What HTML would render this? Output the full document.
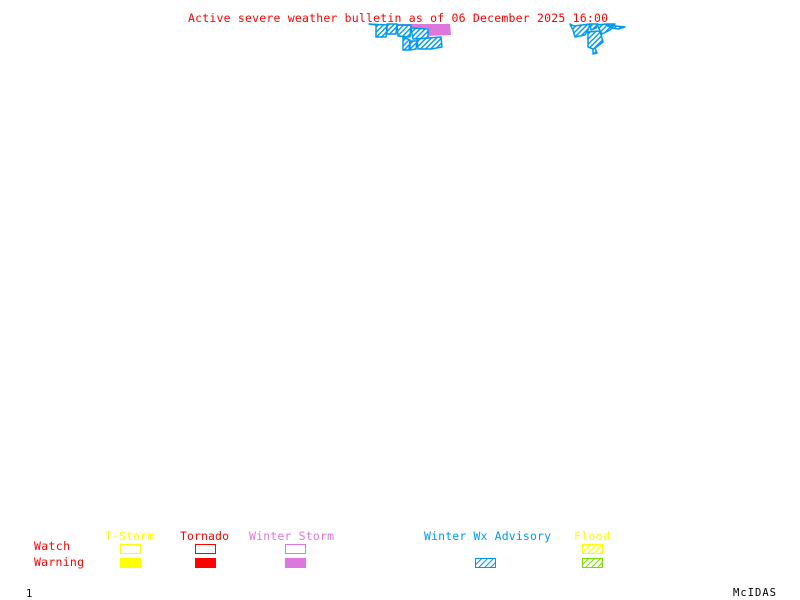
<!DOCTYPE html>
<html>
<head>
<meta charset="utf-8">
<style>
html,body{margin:0;padding:0;background:#fff;width:800px;height:600px;overflow:hidden}
svg{display:block}
text{font-family:"DejaVu Sans Mono","Liberation Mono",monospace;font-size:11.5px}
</style>
</head>
<body>
<svg width="800" height="600" viewBox="0 0 800 600" xmlns="http://www.w3.org/2000/svg">
<defs>
<pattern id="hc" width="3.6" height="3.6" patternUnits="userSpaceOnUse" patternTransform="rotate(-45)">
<rect width="3.6" height="1.4" fill="#0099ee"/>
</pattern>
<pattern id="ly" width="4.2" height="4.2" patternUnits="userSpaceOnUse" patternTransform="rotate(-45)">
<rect width="4.2" height="1.1" fill="#ffff00"/>
</pattern>
<pattern id="lg" width="4.2" height="4.2" patternUnits="userSpaceOnUse" patternTransform="rotate(-45)">
<rect width="4.2" height="1.1" fill="#77dd00"/>
</pattern>
<pattern id="lc" width="4.2" height="4.2" patternUnits="userSpaceOnUse" patternTransform="rotate(-45)">
<rect width="4.2" height="1.1" fill="#0099ee"/>
</pattern>
</defs>

<text x="188" y="22" fill="#ff0000" textLength="420" lengthAdjust="spacing">Active severe weather bulletin as of 06 December 2025 16:00</text>

<!-- magenta warning area -->
<path d="M397 24L450 24L451 35L428 36L428 28L412 28L411 26L397 26Z" fill="#dd77dd"/>

<!-- left cluster -->
<g stroke="#0099ee" stroke-width="1.5" fill="url(#hc)" stroke-linejoin="round">
<path d="M369 24L376 25L376 37L386 37L387 25Z" />
<path d="M387 24L397 24L396 34L387 34Z"/>
<path d="M397 25L411 25L410 37L398 36Z"/>
<path d="M411 28L428 29L428 38L413 39Z"/>
<path d="M403 37L410 40L409 50L403 50Z"/>
<path d="M410 41L417 41L416 49L410 50Z"/>
<path d="M417 39L428 38L441 37L442 47L431 49L418 49Z"/>
</g>

<!-- right cluster -->
<g stroke="#0099ee" stroke-width="1.5" fill="url(#hc)" stroke-linejoin="round">
<path d="M570 24L574 26L590 24L588 30L585 35L575 37L573 30Z"/>
<path d="M590 24L598 24L596 28L591 30Z"/>
<path d="M597 25L606 24L615 24L610 30L602 34Z"/>
<path d="M606 25L625 27L618 29L612 28Z"/>
<path d="M588 32L600 31L603 42L595 48L597 53L593 54L593 49L588 47Z"/>
</g>

<!-- legend labels -->
<text x="105" y="540" fill="#ffff00" textLength="49">T-Storm</text>
<text x="180" y="540" fill="#ff0000" textLength="49">Tornado</text>
<text x="249" y="540" fill="#dd77dd" textLength="85">Winter Storm</text>
<text x="424" y="540" fill="#0099ee" textLength="127">Winter Wx Advisory</text>
<text x="574" y="540" fill="#ffff00" textLength="36">Flood</text>
<text x="34" y="550" fill="#ff0000" textLength="36">Watch</text>
<text x="34" y="566" fill="#ff0000" textLength="50">Warning</text>

<!-- legend boxes -->
<g shape-rendering="crispEdges">
<path fill-rule="evenodd" fill="#ffff00" d="M120 544h21v10h-21zM121 545v8h19v-8z"/>
<path fill-rule="evenodd" fill="#ff0000" d="M195 544h21v10h-21zM196 545v8h19v-8z"/>
<path fill-rule="evenodd" fill="#dd77dd" d="M285 544h21v10h-21zM286 545v8h19v-8z"/>
<rect x="120" y="558" width="21" height="10" fill="#ffff00"/>
<rect x="195" y="558" width="21" height="10" fill="#ff0000"/>
<rect x="285" y="558" width="21" height="10" fill="#dd77dd"/>
</g>
<rect x="582" y="544" width="21" height="10" fill="url(#ly)"/>
<rect x="475" y="558" width="21" height="10" fill="url(#lc)"/>
<rect x="582" y="558" width="21" height="10" fill="url(#lg)"/>
<g shape-rendering="crispEdges">
<path fill-rule="evenodd" fill="#ffff00" d="M582 544h21v10h-21zM583 545v8h19v-8z"/>
<path fill-rule="evenodd" fill="#0099ee" d="M475 558h21v10h-21zM476 559v8h19v-8z"/>
<path fill-rule="evenodd" fill="#77dd00" d="M582 558h21v10h-21zM583 559v8h19v-8z"/>
</g>

<text x="26" y="597" fill="#000000" style="font-size:10.5px">1</text>
<text x="733" y="596" fill="#000000" textLength="43" style="font-size:10.5px">McIDAS</text>
</svg>
</body>
</html>
